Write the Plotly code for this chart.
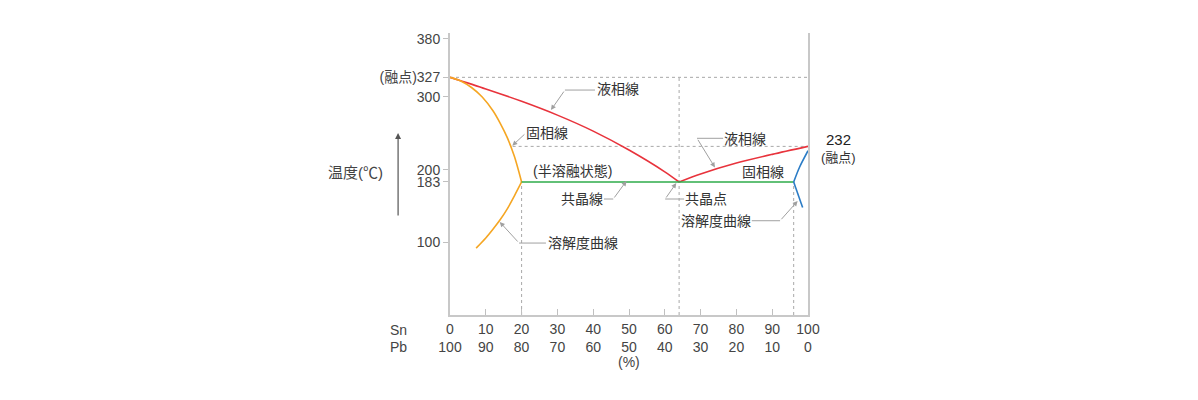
import plotly.graph_objects as go

# ---- data (Sn %, temperature °C) ----
liq_left_x = [0, 10, 20, 30, 40, 50, 60, 64]
liq_left_y = [327, 311, 294, 275, 253, 227, 197, 183]

liq_right_x = [64, 70, 80, 90, 100]
liq_right_y = [183, 194, 209, 221, 232]

sol_left_x = [0, 3, 6, 9, 12, 14, 16, 18, 20]
sol_left_y = [327, 322, 313, 300, 281, 264, 244, 218, 183]

solv_left_x = [20, 18, 16, 14, 12, 10, 7.3]
solv_left_y = [183, 164, 146, 131, 118, 106, 92]

eut_line_x = [20, 96]
eut_line_y = [183, 183]

sol_right_x = [96, 97.6, 100]
sol_right_y = [183, 203, 226]

solv_right_x = [96, 97.3, 98.5]
solv_right_y = [183, 165, 148]

melt_pb = 327
melt_sn = 232
eut_T = 183
eut_x = 64
sol_lim_left = 20
sol_lim_right = 96

x_ticks = [0, 10, 20, 30, 40, 50, 60, 70, 80, 90, 100]
x_labels = [f"{s}<br>{100 - s}" for s in x_ticks]
y_ticks = [100, 183, 200, 300, 327, 380]
y_labels = ["100", "183", "200", "300", "(融点)327", "380"]

FONT = "Liberation Sans, Noto Sans CJK JP, sans-serif"
RED = "#e8333c"
ORANGE = "#f5a623"
GREEN = "#2eab4a"
BLUE = "#2b7cc6"
GUIDE = "#a8a8a8"
LEAD = "#a0a0a0"
TXT = "#333333"

fig = go.Figure()


def line(x, y, color, shape="linear"):
    fig.add_trace(go.Scatter(x=x, y=y, mode="lines",
                             line=dict(color=color, width=1.6, shape=shape, smoothing=0.8),
                             hoverinfo="skip", showlegend=False))


line(liq_left_x, liq_left_y, RED, "spline")
line(liq_right_x, liq_right_y, RED, "spline")
line(sol_left_x, sol_left_y, ORANGE, "spline")
line(solv_left_x, solv_left_y, ORANGE, "spline")
line(eut_line_x, eut_line_y, GREEN)
line(sol_right_x, sol_right_y, BLUE, "spline")
line(solv_right_x, solv_right_y, BLUE)

# dotted guides
guides = [
    (0, melt_pb, 100, melt_pb),
    (17.5, melt_sn, 100, melt_sn),
    (sol_lim_left, 0, sol_lim_left, eut_T),
    (eut_x, 0, eut_x, melt_pb),
    (sol_lim_right, 0, sol_lim_right, eut_T),
]
for x0, y0, x1, y1 in guides:
    fig.add_shape(type="line", x0=x0, y0=y0, x1=x1, y1=y1, xref="x", yref="y",
                  line=dict(color=GUIDE, width=1, dash="dot"), layer="below")

# leader horizontal segments
segs = [
    (40.5, 309.5, 32.1, 309.5),
    (43.0, 159.6, 45.6, 159.6),
    (65.4, 159.6, 60.1, 159.6),
    (76.3, 243.1, 69.0, 243.1),
    (84.3, 129.7, 92.2, 129.7),
    (26.8, 99, 19.3, 99),
]
for x0, y0, x1, y1 in segs:
    fig.add_shape(type="line", x0=x0, y0=y0, x1=x1, y1=y1, xref="x", yref="y",
                  line=dict(color=LEAD, width=1))

# leader arrows (tail -> tip)
arrows = [
    (32.1, 309.5, 28.2, 282),
    (21.2, 250.4, 17.4, 233),
    (45.6, 159.6, 49.3, 184.5),
    (60.1, 159.6, 63.2, 181.5),
    (69.0, 243.1, 74.0, 203),
    (92.2, 129.7, 97.1, 156.8),
    (19.3, 99, 13.9, 128),
]
for ax, ay, x, y in arrows:
    fig.add_annotation(x=x, y=y, ax=ax, ay=ay, xref="x", yref="y", axref="x", ayref="y",
                       text="", showarrow=True, arrowhead=2, arrowsize=1, arrowwidth=1,
                       arrowcolor=LEAD, standoff=0)

labels = [
    ("液相線", 46.9, 310.6),
    ("固相線", 27.2, 250.4),
    ("(半溶融状態)", 34.2, 198.1),
    ("共晶線", 37.0, 159.6),
    ("共晶点", 71.6, 159.6),
    ("液相線", 82.4, 242.2),
    ("固相線", 87.4, 196.8),
    ("溶解度曲線", 74.4, 129.3),
    ("溶解度曲線", 37.2, 99),
]
for t, x, y in labels:
    fig.add_annotation(x=x, y=y, xref="x", yref="y", text=t, showarrow=False,
                       xanchor="center", yanchor="middle",
                       font=dict(size=14, color=TXT, family=FONT))

# texts outside the plot area (paper coordinates)
outside = [
    ("232", 1.084, 0.624, 15, "#222"),
    ("(融点)", 1.084, 0.558, 13, TXT),
    ("Sn", -0.145, -0.053, 14, "#444"),
    ("Pb", -0.145, -0.113, 14, "#444"),
    ("(%)", 0.5, -0.166, 14, "#444"),
    ("温度(℃)", -0.265, 0.507, 15, "#444"),
]
for t, x, y, s, c in outside:
    fig.add_annotation(x=x, y=y, xref="paper", yref="paper", text=t, showarrow=False,
                       xanchor="center", yanchor="middle",
                       font=dict(size=s, color=c, family=FONT))
fig.add_annotation(x=-0.145, y=0.645, xref="paper", yref="paper", ax=0, ay=84,
                   text="", showarrow=True, arrowhead=2, arrowsize=1, arrowwidth=1.2,
                   arrowcolor="#555", standoff=0)

fig.update_layout(
    width=1198, height=400,
    margin=dict(l=450, r=390, t=33, b=85),
    paper_bgcolor="white", plot_bgcolor="white",
    font=dict(family=FONT, size=14, color="#444"),
    showlegend=False,
    xaxis=dict(range=[0, 100], tickmode="array", tickvals=x_ticks, ticktext=x_labels,
               ticks="inside", ticklen=6, tickcolor="#c0c0c0", tickwidth=1,
               showline=True, linecolor="#c8c8c8", linewidth=2,
               showgrid=False, zeroline=False, tickfont=dict(size=14, color="#444")),
    yaxis=dict(range=[0, 388], tickmode="array", tickvals=y_ticks, ticktext=y_labels,
               ticks="outside", ticklen=5, tickcolor="#c0c0c0", tickwidth=1,
               showline=True, mirror=True, linecolor="#c8c8c8", linewidth=2,
               showgrid=False, zeroline=False, tickfont=dict(size=14, color="#444")),
)

fig.write_html("out.html", config={"displayModeBar": False},
               post_script="document.body.style.margin='0px';")
